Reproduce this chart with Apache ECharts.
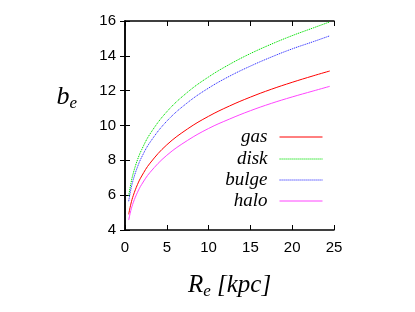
<!DOCTYPE html>
<html><head><meta charset="utf-8">
<script src="https://cdn.jsdelivr.net/npm/echarts@6/dist/echarts.min.js"></script>
<style>html,body{margin:0;padding:0;background:#fff}#c{width:415px;height:312px}</style>
</head><body><div id="c"></div>
<script>
const radius = [0.44, 0.7, 1, 1.5, 2, 3, 5, 7.5, 10, 12.5, 15, 17.5, 20, 22.5, 24.5];
const gas   = [4.90, 5.49, 5.99, 6.62, 7.10, 7.84, 8.89, 9.81, 10.53, 11.12, 11.63, 12.08, 12.48, 12.85, 13.13];
const disk  = [5.95, 6.66, 7.28, 8.04, 8.62, 9.52, 10.79, 11.92, 12.79, 13.51, 14.13, 14.67, 15.16, 15.60, 15.95];
const bulge = [5.65, 6.33, 6.91, 7.63, 8.19, 9.04, 10.25, 11.32, 12.15, 12.83, 13.41, 13.93, 14.40, 14.81, 15.15];
const halo  = [4.57, 5.12, 5.59, 6.17, 6.62, 7.31, 8.29, 9.15, 9.83, 10.37, 10.85, 11.27, 11.64, 11.98, 12.25];
const xTicks = [0, 5, 10, 15, 20, 25];
const yTicks = [4, 6, 8, 10, 12, 14, 16];

const pairs = a => radius.map((r, i) => [r, a[i]]);
const chart = echarts.init(document.getElementById('c'), null, {renderer: 'canvas'});
const labelFont = {color: '#000', fontFamily: 'Liberation Sans', fontSize: 15};
const axisCommon = {
  axisLine: {show: true, lineStyle: {color: '#000', width: 1.5}},
  axisTick: {show: true, inside: true, length: 5, lineStyle: {color: '#000', width: 1}},
  splitLine: {show: false}
};
const series = [
  {name: 'gas', data: pairs(gas), color: '#ff0000', type: [0]},
  {name: 'disk', data: pairs(disk), color: '#00e000', type: [1.2, 0.8]},
  {name: 'bulge', data: pairs(bulge), color: '#3333ff', type: [1.2, 0.8]},
  {name: 'halo', data: pairs(halo), color: '#ff44ff', type: [0]}
];
const legendTops = [127.5, 149.5, 170.5, 191.5];
chart.setOption({
  animation: false,
  grid: {left: 125, right: 81, top: 21, bottom: 82},
  xAxis: [
    Object.assign({type: 'value', min: 0, max: 25, interval: 5, position: 'bottom',
      axisLabel: Object.assign({margin: 10}, labelFont),
      name: '{r|R}{s|e}{r| [kpc]}', nameLocation: 'middle', nameGap: 41,
      nameTextStyle: {rich: {
        r: {fontFamily: 'Liberation Serif', fontStyle: 'italic', fontSize: 25, color: '#000'},
        s: {fontFamily: 'Liberation Serif', fontStyle: 'italic', fontSize: 17, color: '#000', padding: [12, 0, 0, 0]}
      }}}, axisCommon),
    Object.assign({type: 'value', min: 0, max: 25, interval: 5, position: 'top', axisLabel: {show: false}}, axisCommon)
  ],
  yAxis: [
    Object.assign({type: 'value', min: 4, max: 16, interval: 2, position: 'left',
      axisLabel: Object.assign({margin: 9}, labelFont),
      name: '{r|b}{s|e}', nameLocation: 'middle', nameGap: 48, nameRotate: 0,
      nameTextStyle: {padding: [0, 0, 56, 0], rich: {
        r: {fontFamily: 'Liberation Serif', fontStyle: 'italic', fontSize: 26, color: '#000'},
        s: {fontFamily: 'Liberation Serif', fontStyle: 'italic', fontSize: 17, color: '#000', padding: [12, 0, 0, 0]}
      }}}, axisCommon),
    Object.assign({type: 'value', min: 4, max: 16, interval: 2, position: 'right', axisLabel: {show: false}}, axisCommon)
  ],
  legend: series.map((s, i) => ({
    data: [s.name], right: 92, top: legendTops[i], align: 'right', orient: 'vertical',
    itemWidth: 43, itemHeight: 10, padding: 0, selectedMode: false,
    itemStyle: {opacity: 0},
    lineStyle: {width: 1},
    textStyle: {fontFamily: 'Liberation Serif', fontStyle: 'italic', fontSize: 19, color: '#000', padding: [0, 7, 0, 0]}
  })),
  series: series.map(s => ({
    name: s.name, type: 'line', data: s.data, smooth: 0.4, showSymbol: false, symbol: 'none',
    xAxisIndex: 0, yAxisIndex: 0,
    lineStyle: {color: s.color, width: 1, type: s.type[0] === 0 ? 'solid' : s.type},
    itemStyle: {color: s.color}
  }))
});
</script></body></html>
